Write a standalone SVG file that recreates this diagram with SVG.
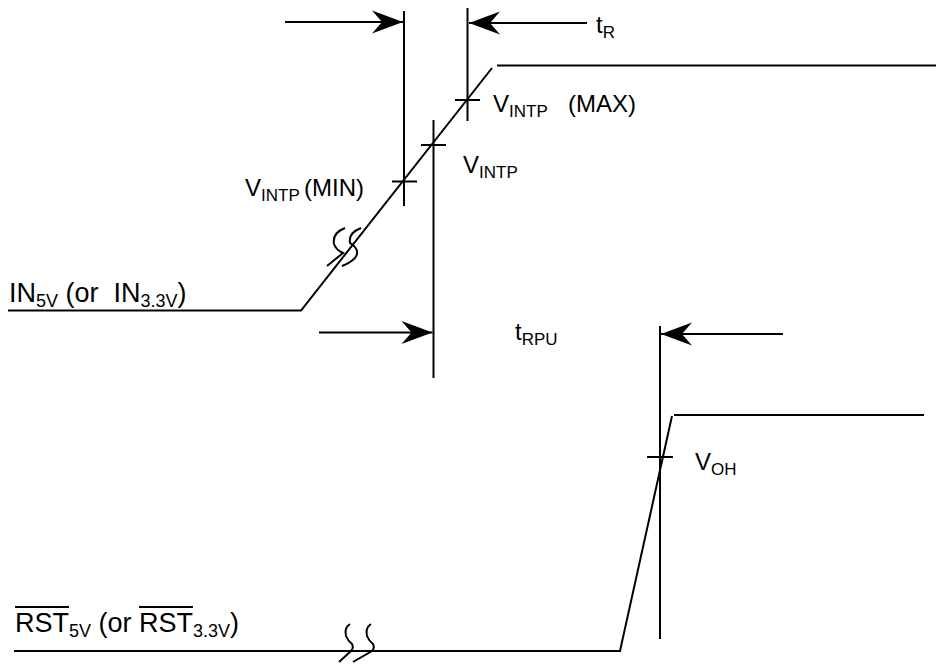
<svg xmlns="http://www.w3.org/2000/svg" width="936" height="666" viewBox="0 0 936 666">
<defs>
<style>
.w{fill:none;stroke:#000;stroke-width:2}
.t{font-family:"Liberation Sans",Arial,sans-serif;font-size:24px;fill:#000}
.s{font-size:17px}
.b{font-size:27px}
.bs{font-size:18px}
</style>
<marker id="ah" viewBox="-32 -12 34 24" refX="0" refY="0" markerWidth="34" markerHeight="24" markerUnits="userSpaceOnUse" orient="auto">
<path d="M0,0 L-31,-11.5 L-21,0 L-31,11.5 Z" fill="#000"/>
</marker>
</defs>
<rect width="936" height="666" fill="#fff"/>
<g id="in-signal">
<polyline class="w" points="8,310.5 301,310.5 492,68"/>
<line class="w" x1="497" y1="65.5" x2="936" y2="65.5"/>
<path class="w" d="M345,228 Q332,233 334,244 Q336,250 343,253 L327,266"/>
<path class="w" d="M361,228 Q348,233 350,243 Q361,250 355,258 Q350,263 342,266"/>
<text class="t b" x="9" y="302">IN<tspan class="bs" dy="5">5V</tspan><tspan dy="-5"> (or&#160; IN</tspan><tspan class="bs" dy="5">3.3V</tspan><tspan dy="-5">)</tspan></text>
</g>
<g id="rst-signal">
<polyline class="w" points="14,651 620,651 672,416"/>
<line class="w" x1="674" y1="415" x2="924" y2="415"/>
<path class="w" d="M350,624 Q344,628 346,636 Q348,641 352,644 Q354,648 351,651 L339,662"/>
<path class="w" d="M371,624 Q365,628 367,636 Q369,641 373,644 Q375,648 372,651 L353,662"/>
<text class="t b" x="15" y="632">RST<tspan class="bs" dy="5">5V</tspan><tspan dy="-5"> (or RST</tspan><tspan class="bs" dy="5">3.3V</tspan><tspan dy="-5">)</tspan></text>
<line x1="15" y1="607" x2="69" y2="607" stroke="#000" stroke-width="1.8"/>
<line x1="139" y1="607" x2="193" y2="607" stroke="#000" stroke-width="1.8"/>
</g>
<g id="markers">
<line class="w" x1="404" y1="11" x2="404" y2="206"/>
<line class="w" x1="467.5" y1="8" x2="467.5" y2="121"/>
<line class="w" x1="433.5" y1="120" x2="433.5" y2="378"/>
<line class="w" x1="660" y1="326" x2="660" y2="639"/>
<line class="w" x1="392" y1="181.5" x2="417" y2="181.5"/>
<line class="w" x1="421" y1="145" x2="446" y2="145"/>
<line class="w" x1="455" y1="100" x2="480" y2="100"/>
<line class="w" x1="647" y1="457" x2="673" y2="457"/>
</g>
<g id="connectors">
<line class="w" x1="285" y1="22" x2="403" y2="22" marker-end="url(#ah)"/>
<line class="w" x1="587" y1="23" x2="469" y2="23" marker-end="url(#ah)"/>
<line class="w" x1="319" y1="332.5" x2="432.5" y2="332.5" marker-end="url(#ah)"/>
<line class="w" x1="783" y1="334" x2="661" y2="334" marker-end="url(#ah)"/>
</g>
<g id="labels">
<text class="t" x="596" y="33">t<tspan class="s" dy="5">R</tspan></text>
<text class="t" x="493" y="112">V<tspan class="s" dy="5">INTP</tspan><tspan dy="-5" x="568">(MAX)</tspan></text>
<text class="t" x="463" y="173">V<tspan class="s" dy="5">INTP</tspan></text>
<text class="t" x="245" y="196">V<tspan class="s" dy="5">INTP</tspan><tspan dy="-5" x="304">(MIN)</tspan></text>
<text class="t" x="515" y="340">t<tspan class="s" dy="5">RPU</tspan></text>
<text class="t" x="695" y="470">V<tspan class="s" dy="5">OH</tspan></text>
</g>
</svg>
